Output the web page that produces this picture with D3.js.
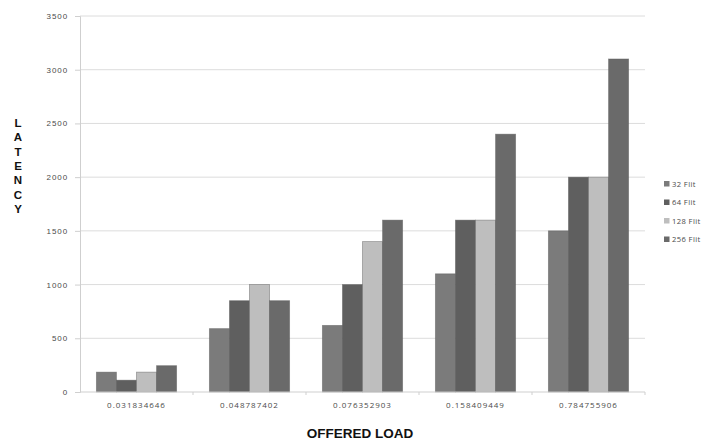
<!DOCTYPE html>
<html>
<head>
<meta charset="utf-8">
<script src="https://cdn.jsdelivr.net/npm/d3@7"></script>
<style>
  html, body { margin: 0; padding: 0; background: #fff; }
  svg { display: block; font-family: "Open Sans", "Liberation Sans", sans-serif; }
</style>
</head>
<body>
<svg id="chart" width="705" height="441"></svg>
<script>
// Offered load categories (x axis)
const loads = ["0.031834646", "0.048787402", "0.076352903", "0.158409449", "0.784755906"];
// Packet sizes (series)
const seriesNames = ["32 Flit", "64 Flit", "128 Flit", "256 Flit"];
// Latency per series, one value per offered load
const flit32  = [185, 590, 620, 1100, 1500];
const flit64  = [110, 850, 1000, 1600, 2000];
const flit128 = [185, 1000, 1400, 1600, 2000];
const flit256 = [245, 850, 1600, 2400, 3100];
const yTicks = [0, 500, 1000, 1500, 2000, 2500, 3000, 3500];

const seriesValues = [flit32, flit64, flit128, flit256];
const colors = ["#7b7b7b", "#5f5f5f", "#bebebe", "#6a6a6a"];

const svg = d3.select("#chart");
const plotLeft = 80, plotRight = 645, plotTop = 16, plotBottom = 392;

const x = d3.scaleBand().domain(loads).range([plotLeft, plotRight]).paddingInner(0.29).paddingOuter(0.145);
const x0 = d3.scaleBand().domain(loads).range([plotLeft, plotRight]);
const xs = d3.scaleBand().domain(seriesNames).range([0, x.bandwidth()]);
const y = d3.scaleLinear().domain([0, 3500]).range([plotBottom, plotTop]);

// horizontal gridlines
svg.append("g")
  .selectAll("line")
  .data(yTicks.filter(d => d > 0))
  .join("line")
  .attr("x1", plotLeft).attr("x2", plotRight)
  .attr("y1", d => y(d)).attr("y2", d => y(d))
  .attr("stroke", "#dcdcdc").attr("stroke-width", 1);

// y axis
const yAxis = svg.append("g")
  .attr("transform", `translate(${plotLeft},0)`)
  .call(d3.axisLeft(y).tickValues(yTicks).tickFormat(d3.format("d")).tickSize(5).tickPadding(7));
yAxis.select(".domain").attr("stroke", "#cfcfcf");
yAxis.selectAll(".tick line").attr("stroke", "#cfcfcf");
yAxis.selectAll(".tick text")
  .attr("fill", "#4a4a4a")
  .style("font-size", "8px")
  .style("letter-spacing", "0.9px");

// bars
const groups = svg.append("g")
  .selectAll("g")
  .data(loads.map((load, i) => ({ load, vals: seriesValues.map((s, k) => ({ name: seriesNames[k], v: s[i], k })) })))
  .join("g")
  .attr("transform", d => `translate(${x(d.load)},0)`);

groups.selectAll("rect")
  .data(d => d.vals)
  .join("rect")
  .attr("x", d => xs(d.name))
  .attr("width", xs.bandwidth())
  .attr("y", d => y(d.v))
  .attr("height", d => y(0) - y(d.v))
  .attr("fill", d => colors[d.k])
  .attr("stroke", "#555")
  .attr("stroke-opacity", 0.5)
  .attr("stroke-width", 0.8);

// x axis
const xAxisG = svg.append("g")
  .attr("transform", `translate(0,${plotBottom})`);
xAxisG.append("line")
  .attr("x1", plotLeft).attr("x2", plotRight)
  .attr("stroke", "#cfcfcf");
xAxisG.selectAll("line.tk")
  .data(loads)
  .join("line")
  .attr("class", "tk")
  .attr("x1", d => x0(d) + x0.bandwidth())
  .attr("x2", d => x0(d) + x0.bandwidth())
  .attr("y1", 0).attr("y2", 3)
  .attr("stroke", "#cfcfcf");
xAxisG.selectAll("text")
  .data(loads)
  .join("text")
  .attr("x", d => x0(d) + x0.bandwidth() / 2)
  .attr("y", 16)
  .attr("text-anchor", "middle")
  .attr("fill", "#4a4a4a")
  .style("font-size", "8px")
  .style("letter-spacing", "1px")
  .text(d => d);

// axis titles
svg.append("text")
  .attr("x", 360).attr("y", 437.5)
  .attr("text-anchor", "middle")
  .attr("fill", "#111")
  .style("font-family", "'Liberation Sans', Arial, sans-serif")
  .style("font-size", "13.5px")
  .style("font-weight", "bold")
  .text("OFFERED LOAD");

svg.append("text")
  .attr("text-anchor", "middle")
  .attr("fill", "#111")
  .style("font-family", "'Liberation Sans', Arial, sans-serif")
  .style("font-size", "11.5px")
  .style("font-weight", "bold")
  .selectAll("tspan")
  .data("LATENCY".split(""))
  .join("tspan")
  .attr("x", 18)
  .attr("y", (d, i) => 127 + i * 14.3)
  .text(d => d);

// legend
const legend = svg.append("g")
  .selectAll("g")
  .data(seriesNames)
  .join("g")
  .attr("transform", (d, i) => `translate(664,${184 + i * 18.5})`);
legend.append("rect")
  .attr("x", 0).attr("y", -3)
  .attr("width", 5.5).attr("height", 5.5)
  .attr("fill", (d, i) => colors[i]);
legend.append("text")
  .attr("x", 8).attr("y", 2.5)
  .attr("fill", "#4a4a4a")
  .style("font-size", "7.6px")
  .style("letter-spacing", "0.4px")
  .text(d => d);
</script>
</body>
</html>
